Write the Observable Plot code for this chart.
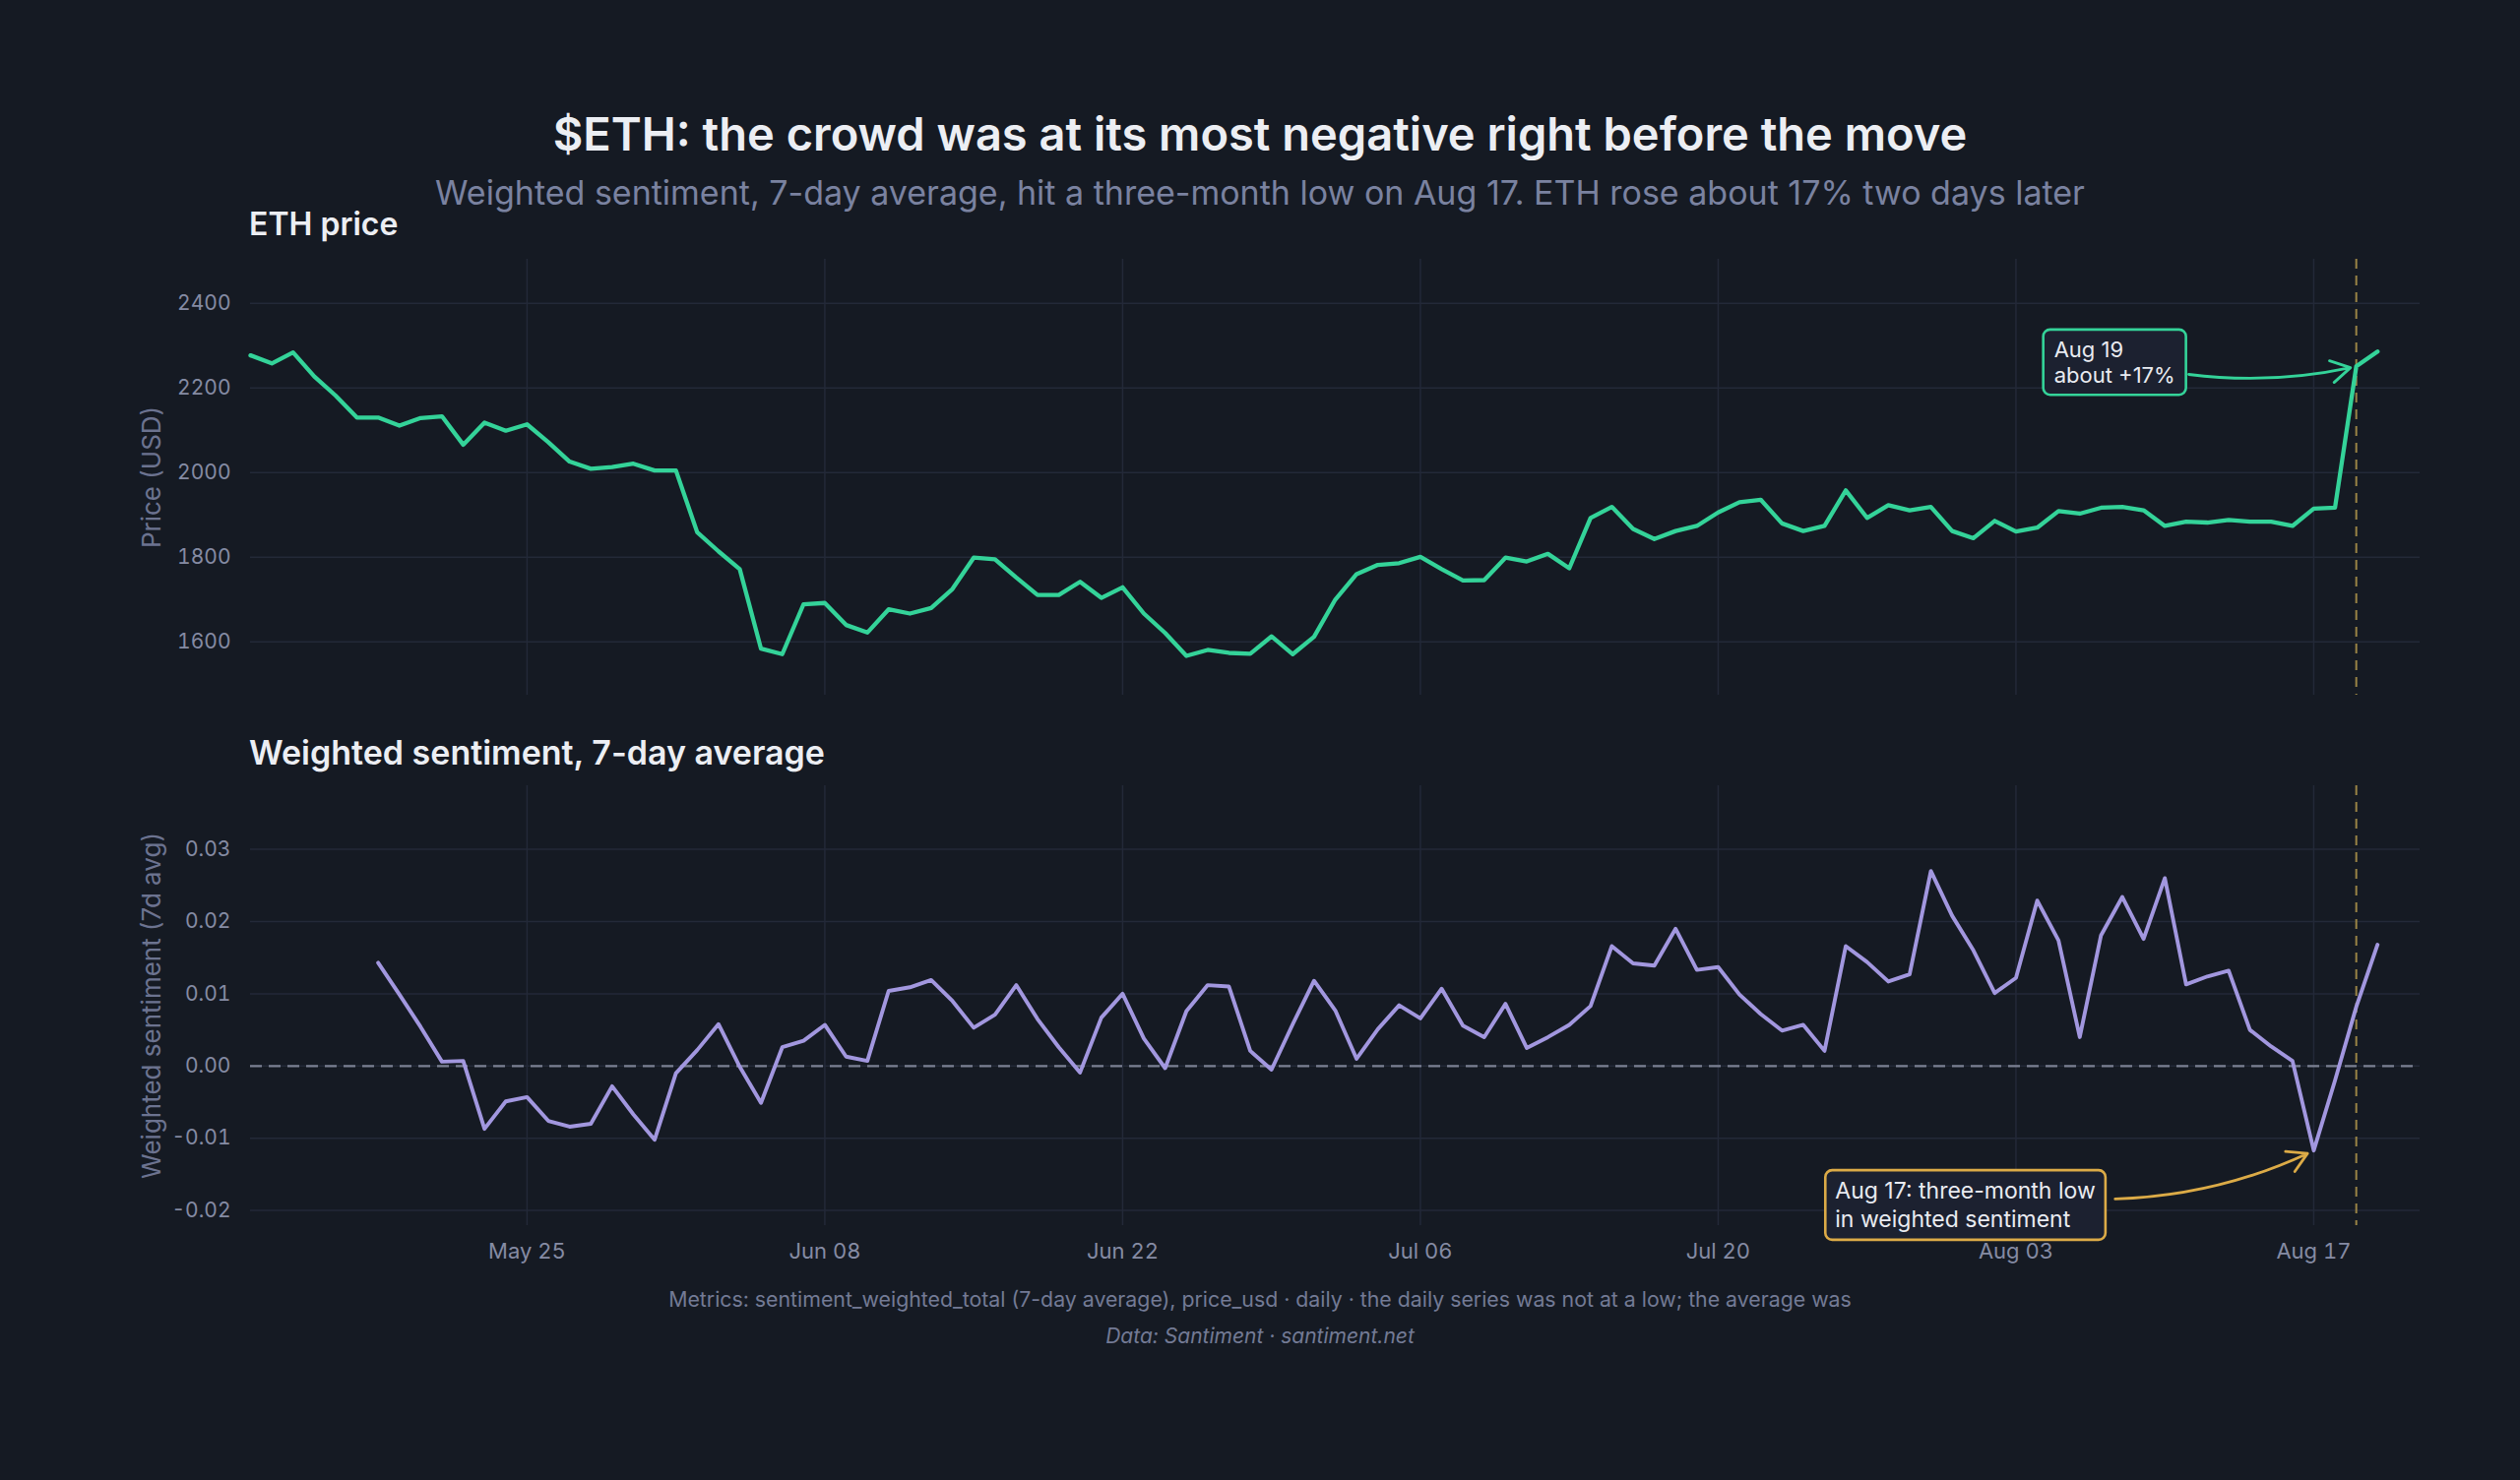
<!DOCTYPE html>
<html>
<head>
<meta charset="utf-8">
<script src="https://cdn.jsdelivr.net/npm/d3@7"></script>
<script src="https://cdn.jsdelivr.net/npm/@observablehq/plot@0.6"></script>
<style>
  html, body { margin: 0; padding: 0; background: #151a23; }
  #root { position: relative; width: 2560px; height: 1504px; background: #151a23; font-family: Inter, "Noto Sans", sans-serif; overflow: hidden; }
  .t { position: absolute; white-space: nowrap; }
  svg { position: absolute; left: 0; }
</style>
</head>
<body>
<div id="root"></div>
<script>
// ---------- DATA ----------
const priceStart = "2023-05-12";
const priceUsd = [
  2277, 2258, 2284, 2227, 2182, 2130, 2130, 2111, 2129, 2133,
  2066, 2118, 2099, 2114, 2072, 2026, 2009, 2013, 2021, 2005,
  2005, 1859, 1814, 1772, 1584, 1571, 1689, 1692, 1640, 1622,
  1677, 1667, 1680, 1725, 1799, 1795, 1752, 1711, 1711, 1742,
  1704, 1729, 1667, 1621, 1567, 1581, 1574, 1572, 1613, 1571,
  1612, 1700, 1760, 1782, 1786, 1801, 1772, 1745, 1746, 1799,
  1790, 1808, 1774, 1893, 1919, 1867, 1843, 1862, 1874, 1906,
  1930, 1936, 1880, 1862, 1874, 1958, 1893, 1923, 1911, 1919,
  1862, 1845, 1886, 1861, 1870, 1909, 1903, 1917, 1919, 1911,
  1874, 1884, 1882, 1888, 1884, 1884, 1874, 1915, 1917, 2251,
  2286
];
const sentStart = "2023-05-18";
const sentiment7d = [
  0.0143, 0.0099, 0.0054, 0.0006, 0.0007, -0.0087, -0.0049, -0.0043, -0.0076, -0.0084,
  -0.0080, -0.0028, -0.0067, -0.0102, -0.0010, 0.0022, 0.0058, -0.0001, -0.0051, 0.0026,
  0.0035, 0.0057, 0.0013, 0.0007, 0.0104, 0.0109, 0.0119, 0.0090, 0.0053, 0.0071,
  0.0112, 0.0065, 0.0026, -0.0009, 0.0067, 0.0100, 0.0038, -0.0003, 0.0076, 0.0112,
  0.0110, 0.0021, -0.0005, 0.0058, 0.0118, 0.0077, 0.0010, 0.0051, 0.0084, 0.0066,
  0.0107, 0.0056, 0.0040, 0.0086, 0.0025, 0.0040, 0.0057, 0.0083, 0.0166, 0.0142,
  0.0139, 0.0190, 0.0133, 0.0137, 0.0099, 0.0072, 0.0049, 0.0057, 0.0021, 0.0166,
  0.0144, 0.0117, 0.0127, 0.0270, 0.0208, 0.0160, 0.0101, 0.0122, 0.0229, 0.0174,
  0.0040, 0.0181, 0.0234, 0.0176, 0.0260, 0.0113, 0.0124, 0.0132, 0.0050, 0.0027,
  0.0007, -0.0117, -0.0020, 0.0082, 0.0168
];
const xTickLabels = ["May 25", "Jun 08", "Jun 22", "Jul 06", "Jul 20", "Aug 03", "Aug 17"];
const priceTicks = [1600, 1800, 2000, 2200, 2400];
const sentTicks = [-0.02, -0.01, 0, 0.01, 0.02, 0.03];
const moveDate = "2023-08-19";
const lowDate = "2023-08-17";

// ---------- PREP ----------
const P = d3.utcParse("%Y-%m-%d");
const year = "2023";
const tickDates = xTickLabels.map(s => d3.utcParse("%b %d %Y")(s + " " + year));
const priceData = priceUsd.map((v, i) => ({date: d3.utcDay.offset(P(priceStart), i), v}));
const sentData = sentiment7d.map((v, i) => ({date: d3.utcDay.offset(P(sentStart), i), v}));
const xDomain = [P("2023-05-12"), P("2023-08-22")];
const moveD = P(moveDate), lowD = P(lowDate);
const movePrice = priceData.find(d => +d.date === +moveD).v;
const lowSent = sentData.find(d => +d.date === +lowD).v;
const at = (s, h) => d3.utcHour.offset(P(s), h);

const GRID = "#232938";
const TICK = "#858ba3";
const AXLAB = "#6c7390";
const GREEN = "#34d399";
const VIOLET = "#a297df";
const GOLD = "#dcab47";
const VLINE = "#9a8446";
const PRICE_NOTE = "Aug 19\nabout +17%";
const LOW_NOTE = "Aug 17: three-month low\nin weighted sentiment";

const root = document.getElementById("root");
function addText(txt, o) {
  const d = document.createElement("div");
  d.className = "t";
  d.textContent = txt;
  d.style.top = o.top + "px";
  d.style.fontSize = o.size + "px";
  d.style.lineHeight = o.size + "px";
  d.style.fontWeight = o.weight || 400;
  d.style.color = o.color;
  if (o.italic) d.style.fontStyle = "italic";
  if (o.center) { d.style.left = "0px"; d.style.width = "2560px"; d.style.textAlign = "center"; }
  else d.style.left = o.left + "px";
  root.appendChild(d);
}

addText("$ETH: the crowd was at its most negative right before the move", {top: 112, center: true, size: 47, weight: 600, color: "#eceef3"});
addText("Weighted sentiment, 7-day average, hit a three-month low on Aug 17. ETH rose about 17% two days later", {top: 179, center: true, size: 34, weight: 400, color: "#7a82a0"});
addText("ETH price", {top: 212, left: 253, size: 32, weight: 600, color: "#eceef3"});
addText("Weighted sentiment, 7-day average", {top: 748, left: 253, size: 34, weight: 600, color: "#eceef3"});
addText("Metrics: sentiment_weighted_total (7-day average), price_usd · daily · the daily series was not at a low; the average was", {top: 1310, center: true, size: 21.3, color: "#737a95"});
addText("Data: Santiment · santiment.net", {top: 1347, center: true, size: 21, italic: true, color: "#737a95"});

const common = {
  width: 2560,
  marginLeft: 254,
  marginRight: 102,
  style: {background: "transparent", fontFamily: "Inter, 'Noto Sans', sans-serif", color: TICK, overflow: "visible"},
  x: {type: "utc", domain: xDomain, axis: null}
};

// ---------- PRICE PANEL ----------
const pricePlot = Plot.plot({
  ...common,
  height: 480,
  marginTop: 23,
  marginBottom: 14,
  y: {domain: [1474, 2504], axis: null},
  marks: [
    Plot.gridY(priceTicks, {stroke: GRID, strokeOpacity: 1, strokeWidth: 1.5}),
    Plot.gridX(tickDates, {stroke: GRID, strokeOpacity: 1, strokeWidth: 1.5}),
    Plot.axisY(priceTicks, {tickSize: 0, tickPadding: 20, fontSize: 21, fill: TICK, label: null, tickFormat: d3.format("d")}),
    Plot.text(["Price (USD)"], {frameAnchor: "left", dx: -100, rotate: -90, fontSize: 26, fill: AXLAB, textAnchor: "middle", lineAnchor: "middle"}),
    Plot.ruleX([moveD], {stroke: VLINE, strokeWidth: 2, strokeDasharray: "10,7"}),
    Plot.line(priceData, {x: "date", y: "v", stroke: GREEN, strokeWidth: 4.3, strokeLinejoin: "round"}),
    Plot.arrow([{x1: at("2023-08-11", 3), y1: 2232, x2: moveD, y2: movePrice}], {
      x1: "x1", y1: "y1", x2: "x2", y2: "y2", bend: -10, stroke: GREEN, strokeWidth: 2.8, headLength: 12, insetEnd: 6
    }),
    Plot.text([{x: at("2023-08-04", 19), y: 2262, t: PRICE_NOTE}], {
      x: "x", y: "y", text: "t", textAnchor: "start", lineAnchor: "middle", lineHeight: 1.2,
      fontSize: 22, fill: "#e9ebf1"
    })
  ]
});
pricePlot.style.top = "240px";
root.appendChild(pricePlot);

// ---------- SENTIMENT PANEL ----------
const sentPlot = Plot.plot({
  ...common,
  height: 510,
  marginTop: 18,
  marginBottom: 45,
  y: {domain: [-0.0221, 0.0388], axis: null},
  marks: [
    Plot.gridY(sentTicks, {stroke: GRID, strokeOpacity: 1, strokeWidth: 1.5}),
    Plot.gridX(tickDates, {stroke: GRID, strokeOpacity: 1, strokeWidth: 1.5}),
    Plot.axisY(sentTicks, {tickSize: 0, tickPadding: 20, fontSize: 21, fill: TICK, label: null, tickFormat: v => v.toFixed(2)}),
    Plot.axisX(tickDates, {tickSize: 0, tickPadding: 18, fontSize: 22, fill: TICK, label: null, tickFormat: d3.utcFormat("%b %d")}),
    Plot.text(["Weighted sentiment (7d avg)"], {frameAnchor: "left", dx: -100, rotate: -90, fontSize: 26, fill: AXLAB, textAnchor: "middle", lineAnchor: "middle"}),
    Plot.ruleY([0], {stroke: "#7b8092", strokeWidth: 2.2, strokeDasharray: "12,7"}),
    Plot.ruleX([moveD], {stroke: VLINE, strokeWidth: 2, strokeDasharray: "10,7"}),
    Plot.line(sentData, {x: "date", y: "v", stroke: VIOLET, strokeWidth: 3.9, strokeLinejoin: "round"}),
    Plot.arrow([{x1: at("2023-08-07", 16), y1: -0.0184, x2: lowD, y2: lowSent}], {
      x1: "x1", y1: "y1", x2: "x2", y2: "y2", bend: -12, stroke: GOLD, strokeWidth: 2.8, headLength: 12, insetEnd: 7
    }),
    Plot.text([{x: at("2023-07-25", 12), y: -0.01908, t: LOW_NOTE}], {
      x: "x", y: "y", text: "t", textAnchor: "start", lineAnchor: "middle", lineHeight: 1.25,
      fontSize: 23, fill: "#e9ebf1"
    })
  ]
});
sentPlot.style.top = "780px";
root.appendChild(sentPlot);

// ---------- annotation boxes behind the note texts ----------
function boxBehind(svg, note, color, padX, padY) {
  const key = note.split("\n")[0];
  const txt = Array.from(svg.querySelectorAll("text")).find(t => t.textContent.startsWith(key) && t.textContent.length > key.length);
  if (!txt) return;
  const sb = svg.getBoundingClientRect();
  const tb = txt.getBoundingClientRect();
  const r = document.createElementNS("http://www.w3.org/2000/svg", "rect");
  r.setAttribute("x", tb.left - sb.left - padX);
  r.setAttribute("y", tb.top - sb.top - padY);
  r.setAttribute("width", tb.width + 2 * padX);
  r.setAttribute("height", tb.height + 2 * padY);
  r.setAttribute("rx", 7);
  r.setAttribute("fill", "#1c2130");
  r.setAttribute("stroke", color);
  r.setAttribute("stroke-width", 2.6);
  const g = txt.parentNode;
  g.parentNode.insertBefore(r, g);
}
boxBehind(pricePlot, PRICE_NOTE, GREEN, 11, 7);
boxBehind(sentPlot, LOW_NOTE, GOLD, 10, 7);
</script>
</body>
</html>
